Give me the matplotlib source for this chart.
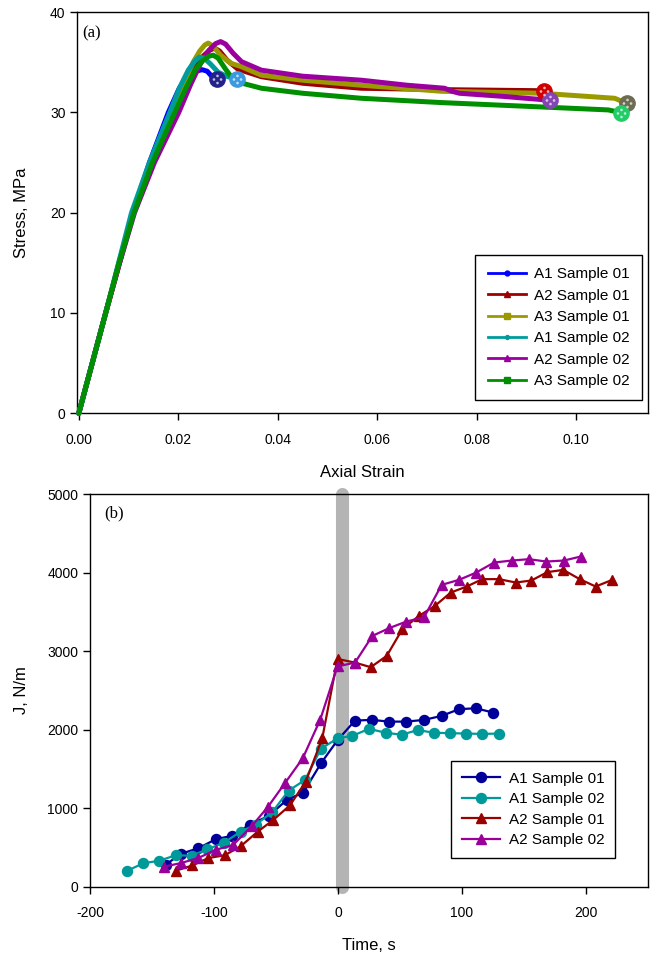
import matplotlib
matplotlib.use('Agg')
import matplotlib.pyplot as plt
from matplotlib.lines import Line2D
from matplotlib.path import Path

plt.rcParams['font.family'] = ['Liberation Sans', 'DejaVu Sans']
plt.rcParams['axes.unicode_minus'] = False

# ---------------- (a) stress vs axial strain ----------------
labels_a = ['A1 Sample 01', 'A2 Sample 01', 'A3 Sample 01',
            'A1 Sample 02', 'A2 Sample 02', 'A3 Sample 02']

strain_a1_s01 = [0, 0.0027, 0.0054, 0.0081, 0.0109, 0.0142, 0.0180, 0.0202, 0.0220,
                 0.0235, 0.0248, 0.0258, 0.0267, 0.0277]
stress_a1_s01 = [0, 5, 10, 15, 20, 25, 30, 32.4, 33.6, 34.1, 34.25, 34.1, 33.6, 33.3]

strain_a2_s01 = [0, 0.0027, 0.0054, 0.0082, 0.0110, 0.0146, 0.0190, 0.0213, 0.0233,
                 0.0250, 0.0263, 0.0273, 0.0283, 0.0298, 0.0320, 0.0367, 0.0450,
                 0.0568, 0.0750, 0.0935]
stress_a2_s01 = [0, 5, 10, 15, 20, 25, 30, 32.6, 34.5, 35.6, 36.2, 36.4, 36.1, 35.2,
                 34.3, 33.55, 32.9, 32.4, 32.25, 32.15]

strain_a3_s01 = [0, 0.0027, 0.0054, 0.0081, 0.0109, 0.0145, 0.0188, 0.0212, 0.0230,
                 0.0243, 0.0253, 0.0260, 0.0270, 0.0285, 0.0305, 0.0327, 0.0367,
                 0.0450, 0.0568, 0.0729, 0.0930, 0.1077, 0.1101]
stress_a3_s01 = [0, 5, 10, 15, 20, 25, 30, 33.0, 35.0, 36.1, 36.7, 36.9, 36.6, 35.7,
                 34.9, 34.55, 33.7, 33.2, 32.7, 32.1, 31.9, 31.4, 30.9]

strain_a1_s02 = [0, 0.0027, 0.0054, 0.0080, 0.0106, 0.0142, 0.0183, 0.0203, 0.0220,
                 0.0233, 0.0242, 0.0252, 0.0265, 0.0280, 0.0297, 0.0317]
stress_a1_s02 = [0, 5, 10, 15, 20, 25, 30, 32.5, 34.2, 35.1, 35.5, 35.4, 34.8, 34.0,
                 33.6, 33.3]

strain_a2_s02 = [0, 0.0027, 0.0054, 0.0082, 0.0112, 0.0152, 0.0201, 0.0225, 0.0245,
                 0.0262, 0.0275, 0.0285, 0.0295, 0.0310, 0.0327, 0.0367, 0.0450,
                 0.0568, 0.0660, 0.0735, 0.0750, 0.0765, 0.0850, 0.0948]
stress_a2_s02 = [0, 5, 10, 15, 20, 25, 30, 32.8, 34.9, 36.2, 36.85, 37.05, 36.8, 35.9,
                 35.05, 34.2, 33.6, 33.2, 32.7, 32.4, 32.1, 31.9, 31.6, 31.2]

strain_a3_s02 = [0, 0.0027, 0.0054, 0.0081, 0.0111, 0.0148, 0.0193, 0.0215, 0.0235,
                 0.0250, 0.0262, 0.0270, 0.0280, 0.0295, 0.0313, 0.0367, 0.0450,
                 0.0568, 0.0729, 0.0900, 0.1064, 0.1090]
stress_a3_s02 = [0, 5, 10, 15, 20, 25, 30, 32.4, 34.3, 35.2, 35.6, 35.7, 35.4, 34.3,
                 33.1, 32.4, 31.9, 31.4, 30.97, 30.6, 30.24, 29.97]

strain_ticks = [0.00, 0.02, 0.04, 0.06, 0.08, 0.10]
strain_ticklabels = ['0.00', '0.02', '0.04', '0.06', '0.08', '0.10']
stress_ticks = [0, 10, 20, 30, 40]

# ---------------- (b) J vs time ----------------
labels_b = ['A1 Sample 01', 'A1 Sample 02', 'A2 Sample 01', 'A2 Sample 02']

time_a1_s01 = [-139.0, -126.6, -112.7, -98.6, -85.2, -71.2, -56.0, -40.9, -28.0, -13.7,
               -0.2, 13.7, 27.2, 41.1, 55.1, 69.4, 83.6, 97.6, 111.0, 125.2]
j_a1_s01 = [280, 420, 489, 604, 650, 790, 900, 1110, 1198, 1572,
            1869, 2115, 2124, 2102, 2102, 2124, 2175, 2260, 2272, 2217]

time_a1_s02 = [-169.9, -157.0, -144.1, -130.9, -118.0, -105.4, -91.9, -78.5, -66.4, -53.0,
               -39.8, -26.6, -13.7, -0.2, 11.5, 25.0, 38.5, 51.4, 64.3, 77.2, 90.1,
               103.5, 116.4, 129.8]
j_a1_s02 = [204, 298, 331, 400, 395, 476, 561, 701, 790, 950,
            1223, 1359, 1758, 1890, 1920, 2010, 1960, 1935, 1995, 1960, 1955,
            1950, 1945, 1950]

time_a2_s01 = [-130.9, -117.5, -104.6, -91.4, -78.5, -64.8, -52.2, -38.7, -26.0, -12.7,
               -0.4, 13.7, 26.4, 39.3, 51.9, 65.3, 78.2, 90.9, 103.8, 116.4, 129.8,
               143.3, 155.9, 168.8, 181.7, 194.9, 207.8, 221.2]
j_a2_s01 = [204, 270, 365, 400, 515, 700, 850, 1037, 1338, 1890,
            2900, 2853, 2795, 2939, 3279, 3448, 3576, 3745, 3822, 3916, 3916,
            3873, 3898, 4005, 4034, 3916, 3822, 3907]

time_a2_s02 = [-140.3, -126.9, -112.7, -98.6, -84.7, -69.6, -56.6, -42.5, -28.4, -14.3,
               -0.4, 13.7, 27.7, 41.1, 55.1, 69.4, 83.6, 97.6, 111.5, 125.8, 140.1,
               154.0, 168.0, 182.3, 195.7]
j_a2_s02 = [255, 300, 365, 470, 530, 770, 1015, 1325, 1636, 2128,
            2805, 2853, 3193, 3291, 3376, 3431, 3843, 3907, 4000, 4127, 4153,
            4170, 4140, 4153, 4204]

event_time = [3, 3]
event_j = [0, 5000]

time_ticks = [-200, -100, 0, 100, 200]
j_ticks = [0, 1000, 2000, 3000, 4000, 5000]

# ---------------- figure ----------------
W, H = 656, 956
fig = plt.figure(figsize=(W / 100, H / 100), dpi=100)

def fig_axes(l, t, r, b):
    return fig.add_axes([l / W, 1 - b / H, (r - l) / W, (b - t) / H])

axA = fig_axes(77.3, 12, 648, 413.3)
axB = fig_axes(90, 494, 648, 886.7)

tick_kw = dict(direction='out', length=5, width=1, labelsize=10, colors='black')

# ---- panel (a)
cols_a = ['#0000ff', '#9c0000', '#9a9a00', '#009c9c', '#9a009e', '#008f00']
end_cols = ['#22228c', '#3a9ae0', '#d00000', '#6c6c52', '#8444b4', '#22cc66']
series_a = [(strain_a1_s01, stress_a1_s01), (strain_a2_s01, stress_a2_s01),
            (strain_a3_s01, stress_a3_s01), (strain_a1_s02, stress_a1_s02),
            (strain_a2_s02, stress_a2_s02), (strain_a3_s02, stress_a3_s02)]
order = [0, 1, 2, 4, 3, 5]
for i in order:
    x, y = series_a[i]
    axA.plot(x, y, color=cols_a[i], lw=3.6, solid_capstyle='round',
             solid_joinstyle='round', zorder=2 + order.index(i), clip_on=False)

dots = Path.make_compound_path(*[Path.circle((dx, dy), 0.13)
                                 for dx, dy in [(0.35, 0), (-0.35, 0), (0, 0.35), (0, -0.35)]])
end_map = {0: end_cols[0], 3: end_cols[1], 1: end_cols[2], 2: end_cols[3],
           4: end_cols[4], 5: end_cols[5]}
for i, (x, y) in enumerate(series_a):
    axA.plot(x[-1], y[-1], 'o', ms=11, color=end_map[i], mec=end_map[i], zorder=20,
             clip_on=False)
    axA.plot(x[-1], y[-1], marker=dots, ms=7, color='white', mec='none',
             alpha=0.7, zorder=21, clip_on=False)

axA.set_xlim(-0.0003, 0.1144)
axA.set_ylim(0, 40)
axA.set_xticks(strain_ticks)
axA.set_xticklabels(strain_ticklabels)
axA.set_yticks(stress_ticks)
axA.tick_params(axis='x', pad=9, **tick_kw)
axA.tick_params(axis='y', pad=3.5, **tick_kw)
axA.set_xlabel('Axial Strain', fontsize=12)
axA.set_ylabel('Stress, MPa', fontsize=12)
axA.xaxis.set_label_coords(0.499, -0.129)
axA.yaxis.set_label_coords(-0.085, 0.5)
axA.text(0.008, 0.947, '(a)', transform=axA.transAxes, fontsize=12,
         family=['Liberation Serif', 'DejaVu Serif'], va='center', ha='left')

mk_a = ['o', '^', 's', 'o', '^', 's']
ms_a = [3.5, 4.5, 4.5, 2.8, 4.5, 4.5]
handles_a = [Line2D([], [], color=cols_a[i], lw=2, marker=mk_a[i], ms=ms_a[i])
             for i in range(6)]
legA = axA.legend(handles_a, labels_a, loc='upper right',
                  bbox_to_anchor=(642 / W, 1 - 255 / H), bbox_transform=fig.transFigure,
                  fontsize=11, frameon=True, fancybox=False, edgecolor='black',
                  framealpha=1, borderaxespad=0, handlelength=2.5, handletextpad=0.55,
                  labelspacing=0.48, borderpad=0.8)
legA.get_frame().set_linewidth(1.0)

# ---- panel (b)
axB.plot(event_time, event_j, color='#b4b4b4', lw=9.4, solid_capstyle='round',
         zorder=1, clip_on=False)
cols_b = ['#000099', '#009999', '#990000', '#990099']
mk_b = ['o', 'o', '^', '^']
series_b = [(time_a1_s01, j_a1_s01), (time_a1_s02, j_a1_s02),
            (time_a2_s01, j_a2_s01), (time_a2_s02, j_a2_s02)]
for i, (x, y) in enumerate(series_b):
    axB.plot(x, y, color=cols_b[i], lw=1.6, marker=mk_b[i], ms=7.2,
             label=labels_b[i], zorder=3 + i)

axB.set_xlim(-200, 250)
axB.set_ylim(0, 5000)
axB.set_xticks(time_ticks)
axB.set_yticks(j_ticks)
axB.tick_params(axis='x', pad=9, **tick_kw)
axB.tick_params(axis='y', pad=3.5, **tick_kw)
axB.set_xlabel('Time, s', fontsize=12)
axB.set_ylabel('J, N/m', fontsize=12)
axB.xaxis.set_label_coords(0.5, -0.131)
axB.yaxis.set_label_coords(-0.109, 0.5)
axB.text(0.025, 0.95, '(b)', transform=axB.transAxes, fontsize=12,
         family=['Liberation Serif', 'DejaVu Serif'], va='center', ha='left')

legB = axB.legend(loc='upper right', bbox_to_anchor=(615 / W, 1 - 761 / H),
                  bbox_transform=fig.transFigure, fontsize=11, frameon=True,
                  fancybox=False, edgecolor='black', framealpha=1, borderaxespad=0,
                  handlelength=2.5, handletextpad=0.55, labelspacing=0.43,
                  borderpad=0.7)
legB.get_frame().set_linewidth(1.0)

for ax in (axA, axB):
    for s in ax.spines.values():
        s.set_linewidth(1.0)

fig.savefig('out.png', dpi=100)
